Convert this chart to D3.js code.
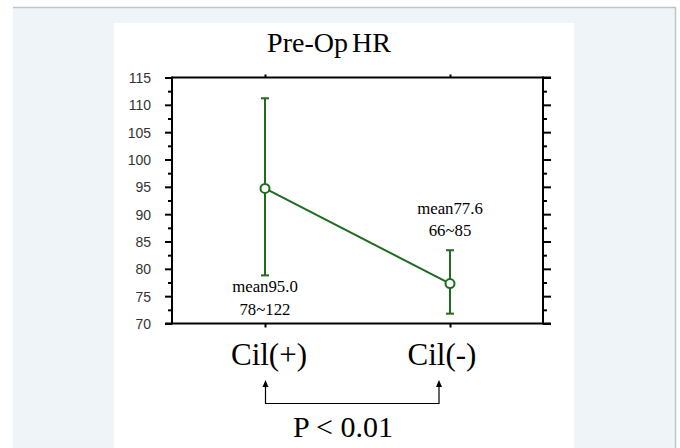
<!DOCTYPE html>
<html><head><meta charset="utf-8">
<script src="https://cdn.jsdelivr.net/npm/d3@7"></script>
<style>html,body{margin:0;padding:0;background:#fff;}svg{display:block;}</style>
</head><body>
<svg id="c" width="680" height="448"></svg>
<script>
const categories = ["Cil(+)", "Cil(-)"];
const means = [94.7, 77.3];
const upper = [111.2, 83.4];
const lower = [78.8, 71.8];
const meanLabels = ["mean95.0", "mean77.6"];
const rangeLabels = ["78~122", "66~85"];
const yTicks = [70, 75, 80, 85, 90, 95, 100, 105, 110, 115];
const title = "Pre-Op HR";
const pLabel = "P < 0.01";

const svg = d3.select("#c");
const green = "#1f6b1f";

// backgrounds
svg.append("rect").attr("x", 13).attr("y", 8).attr("width", 662).attr("height", 440).attr("fill", "#eef4f7");
svg.append("line").attr("x1", 13).attr("x2", 676).attr("y1", 7.5).attr("y2", 7.5).attr("stroke", "#c3c3c3").attr("stroke-width", 1.5);
svg.append("line").attr("x1", 675.5).attr("x2", 675.5).attr("y1", 7).attr("y2", 448).attr("stroke", "#c3c3c3").attr("stroke-width", 1.5);
svg.append("rect").attr("x", 114).attr("y", 23).attr("width", 460).attr("height", 425).attr("fill", "#fff");

const L = 172, R = 543, T = 77.5, B = 323.5;
const x = d3.scalePoint().domain(categories).range([265, 450]);
const y = d3.scaleLinear().domain([70, 115]).range([B, T]);
const serif = "Liberation Serif, Times New Roman, serif";

// title
svg.append("text").attr("x", 329).attr("y", 52).attr("text-anchor", "middle")
  .attr("font-family", serif).attr("font-size", 28).attr("word-spacing", -3)
  .attr("fill", "#000").text(title);

// frame
const frame = svg.append("g").attr("stroke", "#000").attr("stroke-width", 2);
frame.append("line").attr("x1", L).attr("x2", L).attr("y1", T - 1).attr("y2", B + 1);
frame.append("line").attr("x1", R).attr("x2", R).attr("y1", T - 1).attr("y2", B + 1);
frame.append("line").attr("x1", L).attr("x2", 551).attr("y1", T).attr("y2", T);
frame.append("line").attr("x1", 165).attr("x2", 551).attr("y1", B).attr("y2", B);

// left axis
const minorTicks = d3.range(72.5, 115, 5);
const leftAxis = d3.axisLeft(y).tickValues(yTicks).tickSize(7).tickPadding(14).tickFormat(d3.format("d"));
const gl = svg.append("g").attr("transform", `translate(${L},0)`).call(leftAxis);
gl.select(".domain").remove();
gl.selectAll(".tick line").attr("stroke", "#000").attr("stroke-width", 2);
gl.selectAll(".tick text").attr("font-family", "Liberation Sans, Arial, sans-serif").attr("font-size", 14).attr("fill", "#333").attr("dy", "0.36em");
const glm = svg.append("g").attr("transform", `translate(${L},0)`).call(d3.axisLeft(y).tickValues(minorTicks).tickSize(4).tickFormat(""));
glm.select(".domain").remove();
glm.selectAll(".tick line").attr("stroke", "#000").attr("stroke-width", 2);

// right axis
const gr = svg.append("g").attr("transform", `translate(${R},0)`).call(d3.axisRight(y).tickValues(yTicks).tickSize(8).tickFormat(""));
gr.select(".domain").remove();
gr.selectAll(".tick line").attr("stroke", "#000").attr("stroke-width", 2);
const grm = svg.append("g").attr("transform", `translate(${R},0)`).call(d3.axisRight(y).tickValues(minorTicks).tickSize(4).tickFormat(""));
grm.select(".domain").remove();
grm.selectAll(".tick line").attr("stroke", "#000").attr("stroke-width", 2);

// top/bottom category ticks
const gt = svg.append("g").attr("transform", `translate(0,${T})`).call(d3.axisTop(x).tickSize(3).tickFormat(""));
gt.select(".domain").remove();
gt.selectAll(".tick line").attr("stroke", "#000").attr("stroke-width", 2);
const gb = svg.append("g").attr("transform", `translate(0,${B})`).call(d3.axisBottom(x).tickSize(4).tickFormat(""));
gb.select(".domain").remove();
gb.selectAll(".tick line").attr("stroke", "#000").attr("stroke-width", 2);

// error bars
const eb = svg.append("g").attr("stroke", green).attr("stroke-width", 2);
categories.forEach((c, i) => {
  eb.append("line").attr("x1", x(c)).attr("x2", x(c)).attr("y1", y(upper[i])).attr("y2", y(lower[i]));
  eb.append("line").attr("x1", x(c) - 4).attr("x2", x(c) + 4).attr("y1", y(upper[i])).attr("y2", y(upper[i]));
  eb.append("line").attr("x1", x(c) - 4).attr("x2", x(c) + 4).attr("y1", y(lower[i])).attr("y2", y(lower[i]));
});

// mean line
svg.append("path").datum(means)
  .attr("d", d3.line().x((d, i) => x(categories[i])).y(d => y(d)))
  .attr("fill", "none").attr("stroke", green).attr("stroke-width", 2);

svg.selectAll("circle.pt").data(means).join("circle").attr("class", "pt")
  .attr("cx", (d, i) => x(categories[i])).attr("cy", d => y(d)).attr("r", 4.5)
  .attr("fill", "#fff").attr("stroke", green).attr("stroke-width", 2);

// annotations
const annY = [[292, 315], [214, 236]];
categories.forEach((c, i) => {
  svg.append("text").attr("x", x(c)).attr("y", annY[i][0]).attr("text-anchor", "middle")
    .attr("font-family", serif).attr("font-size", 16.8).attr("fill", "#000").text(meanLabels[i]);
  svg.append("text").attr("x", x(c)).attr("y", annY[i][1]).attr("text-anchor", "middle")
    .attr("font-family", serif).attr("font-size", 16.8).attr("fill", "#000").text(rangeLabels[i]);
});

// category labels
const catX = [269, 442];
categories.forEach((c, i) => {
  svg.append("text").attr("x", catX[i]).attr("y", 365).attr("text-anchor", "middle")
    .attr("font-family", serif).attr("font-size", 31).attr("fill", "#000").text(c);
});

// significance bracket
const ax1 = 265.5, ax2 = 439, ay1 = 380, ay2 = 403.5;
svg.append("path").attr("d", `M${ax1},${ay1 + 5}V${ay2}H${ax2}V${ay1 + 5}`)
  .attr("fill", "none").attr("stroke", "#000").attr("stroke-width", 1.2);
[ax1, ax2].forEach(ax => {
  svg.append("path").attr("d", `M${ax},${ay1}L${ax - 3},${ay1 + 7}L${ax + 3},${ay1 + 7}Z`).attr("fill", "#000");
});
svg.append("text").attr("x", 343).attr("y", 437).attr("text-anchor", "middle")
  .attr("font-family", serif).attr("font-size", 30).attr("fill", "#000").text(pLabel);
</script>
</body></html>
